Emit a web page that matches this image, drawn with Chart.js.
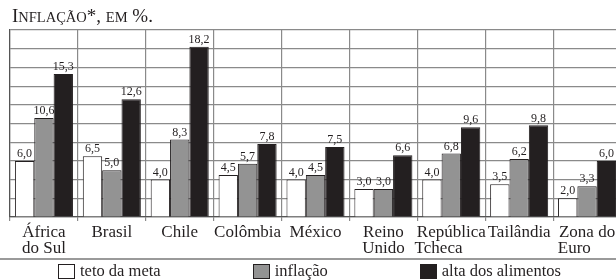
<!DOCTYPE html>
<html>
<head>
<meta charset="utf-8">
<script src="https://cdn.jsdelivr.net/npm/chart.js@4/dist/chart.umd.min.js"></script>
<style>
  body { margin: 0; background: #fff; }
  #wrap { position: relative; width: 616px; height: 280px; overflow: hidden; }
  #title {
    position: absolute; left: 12px; top: 6px;
    font: 19px/19px "Liberation Serif", serif; color: #231f20;
  }
  #title .sc { font-size: 14.5px; text-transform: uppercase; }
  #chart { position: absolute; left: 0; top: 0; }
  #rule { position: absolute; left: 0; top: 258px; width: 616px; border-top: 2px solid #9a9a9a; }
  #legend {
    position: absolute; left: 58px; top: 263px;
    display: flex; gap: 92px;
    font: 16.5px/16px "Liberation Serif", serif; color: #231f20;
  }
  #legend .item { display: flex; align-items: center; }
  #legend .box { width: 15px; height: 13px; border: 1px solid #231f20; margin-right: 5px; }
</style>
</head>
<body>
<div id="wrap">
  <canvas id="chart" width="624" height="262"></canvas>
  <div id="title">I<span class="sc">nflação</span>*, <span class="sc">em</span> %.</div>
  <div id="rule"></div>
  <div id="legend"></div>
</div>
<script>
const categories = [
  ["África", "do Sul"], "Brasil", "Chile", "Colômbia", "México",
  ["Reino", "Unido"], ["República", "Tcheca      "], "Tailândia", ["Zona do", "Euro      "]
];
const seriesNames = ["teto da meta", "inflação", "alta dos alimentos"];
const tetoMeta = [6.0, 6.5, 4.0, 4.5, 4.0, 3.0, 4.0, 3.5, 2.0];
const inflacao = [10.6, 5.0, 8.3, 5.7, 4.5, 3.0, 6.8, 6.2, 3.3];
const altaAlimentos = [15.3, 12.6, 18.2, 7.8, 7.5, 6.6, 9.6, 9.8, 6.0];
const yMax = 20;
const yStep = 2;

const ink = "#231f20";
const fills = ["#ffffff", "#939393", ink];

// value labels above each bar, with comma decimals
const valueLabels = {
  id: "valueLabels",
  afterDatasetsDraw(chart) {
    const ctx = chart.ctx;
    ctx.save();
    ctx.font = '12px "Liberation Serif", serif';
    ctx.fillStyle = ink;
    ctx.textAlign = "center";
    ctx.textBaseline = "bottom";
    chart.data.datasets.forEach((ds, i) => {
      chart.getDatasetMeta(i).data.forEach((bar, j) => {
        ctx.fillText(ds.data[j].toFixed(1).replace(".", ","), bar.x, bar.y - 1);
      });
    });
    ctx.restore();
  }
};

const chart = new Chart(document.getElementById("chart"), {
  type: "bar",
  data: {
    labels: categories,
    datasets: [tetoMeta, inflacao, altaAlimentos].map((values, i) => ({
      label: seriesNames[i],
      data: values,
      backgroundColor: fills[i],
      borderColor: ink,
      borderWidth: 1,
      categoryPercentage: 0.855,
      barPercentage: 1.0
    }))
  },
  options: {
    responsive: false,
    animation: false,
    layout: { padding: { top: 30, left: 10, right: 3, bottom: 0 } },
    plugins: {
      legend: { display: false },
      title: { display: false },
      tooltip: { enabled: false }
    },
    scales: {
      x: {
        grid: { color: "#8a8a8a", lineWidth: 1.2, tickLength: 4 },
        border: { color: "#555", width: 1.2 },
        ticks: {
          color: ink,
          padding: 3,
          maxRotation: 0,
          autoSkip: false,
          font: { family: "Liberation Serif", size: 17, lineHeight: 0.95 }
        },
        afterFit(axis) { axis.height = 45; }
      },
      y: {
        min: 0,
        max: yMax,
        grid: { color: "#8a8a8a", lineWidth: 1.2, drawTicks: false },
        border: { color: "#555", width: 1.2 },
        ticks: { display: false, stepSize: yStep }
      }
    }
  },
  plugins: [valueLabels]
});

// legend built from the chart's datasets
const legend = document.getElementById("legend");
chart.data.datasets.forEach((ds) => {
  const item = document.createElement("div");
  item.className = "item";
  const box = document.createElement("span");
  box.className = "box";
  box.style.background = ds.backgroundColor;
  item.appendChild(box);
  item.appendChild(document.createTextNode(ds.label));
  legend.appendChild(item);
});
</script>
</body>
</html>
